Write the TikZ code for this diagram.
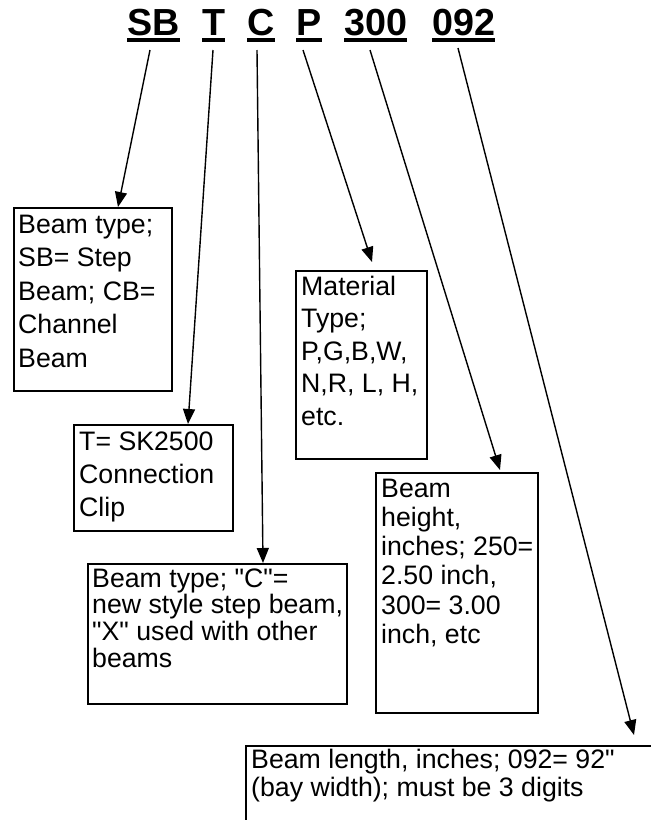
\documentclass[tikz,border=0pt]{standalone}
\usepackage{fontspec}
\setmainfont{Liberation Sans}
\usetikzlibrary{arrows.meta}
\begin{document}
\begin{tikzpicture}[x=1pt,y=-1pt,
  box/.style={draw, line width=1.8pt, anchor=north west, inner sep=0pt},
  txt/.style={anchor=base west, inner sep=0pt, font=\fontsize{26.7}{#1}\selectfont},
  ttl/.style={anchor=base west, inner sep=0pt, font=\fontsize{37.7}{40}\selectfont\bfseries},
  ul/.style={line width=3.6pt},
  arr/.style={line width=1.4pt, -{Triangle[length=15pt,width=12pt]}}]
\clip (0,0) rectangle (651,820);
\fill[white] (0,0) rectangle (651,820);
% title
\node[ttl] (t1) at (127,35) {SB};
\node[ttl] (t2) at (202,35) {T};
\node[ttl] (t3) at (247,35) {C};
\node[ttl] (t4) at (296,35) {P};
\node[ttl] (t5) at (344,35) {300};
\node[ttl] (t6) at (432,35) {092};
\foreach \i in {1,...,6}{
  \draw[ul] ([yshift=-5pt]t\i.base west) -- ([yshift=-5pt]t\i.base east);
}
% boxes
\node[box, minimum width=158pt, minimum height=183pt] (b1) at (13,207) {};
\node[txt=33.5] (b1t) at (18,233) {\parbox[t]{300pt}{Beam type;\\SB= Step\\Beam; CB=\\Channel\\Beam}};
\node[box, minimum width=159pt, minimum height=106pt] (b2) at (73,424) {};
\node[txt=33] (b2t) at (79,450) {\parbox[t]{300pt}{T= SK2500\\Connection\\Clip}};
\node[box, minimum width=259pt, minimum height=140pt] (b3) at (87,563) {};
\node[txt=26.7] (b3t) at (92,587) {\parbox[t]{300pt}{Beam type; \textquotedbl C\textquotedbl=\\new style step beam,\\\textquotedbl X\textquotedbl\ used with other\\beams}};
\node[box, minimum width=131pt, minimum height=188pt] (b4) at (295,270) {};
\node[txt=32.5] (b4t) at (301,295) {\parbox[t]{300pt}{Material\\Type;\\P,G,B,W,\\N,R, L, H,\\etc.}};
\node[box, minimum width=162pt, minimum height=240pt] (b5) at (375,472) {};
\node[txt=29.3] (b5t) at (381,497) {\parbox[t]{300pt}{Beam\\height,\\inches; 250=\\2.50 inch,\\300= 3.00\\inch, etc}};
\node[box, minimum width=430pt, minimum height=120pt] (b6) at (245,745) {};
\node[txt=28] (b6t) at (251,768) {\parbox[t]{400pt}{Beam length, inches; 092= 92\textquotedbl\\(bay width); must be 3 digits}};
% connectors
\coordinate (s1) at (150,50);  \coordinate (e1) at (118,207);
\coordinate (s2) at (213,50);  \coordinate (e2) at (188,424);
\coordinate (s3) at (257,50);  \coordinate (e3) at (263,563);
\coordinate (s4) at (303,50);  \coordinate (e4) at (372,262);
\coordinate (s5) at (370,50);  \coordinate (e5) at (500,470);
\coordinate (s6) at (458,48);  \coordinate (e6) at (634,735);
\draw[arr] (s1) -- (e1);
\draw[arr] (s2) -- (e2);
\draw[arr] (s3) -- (e3);
\draw[arr] (s4) -- (e4);
\draw[arr] (s5) -- (e5);
\draw[arr] (s6) -- (e6);
\end{tikzpicture}
\end{document}
